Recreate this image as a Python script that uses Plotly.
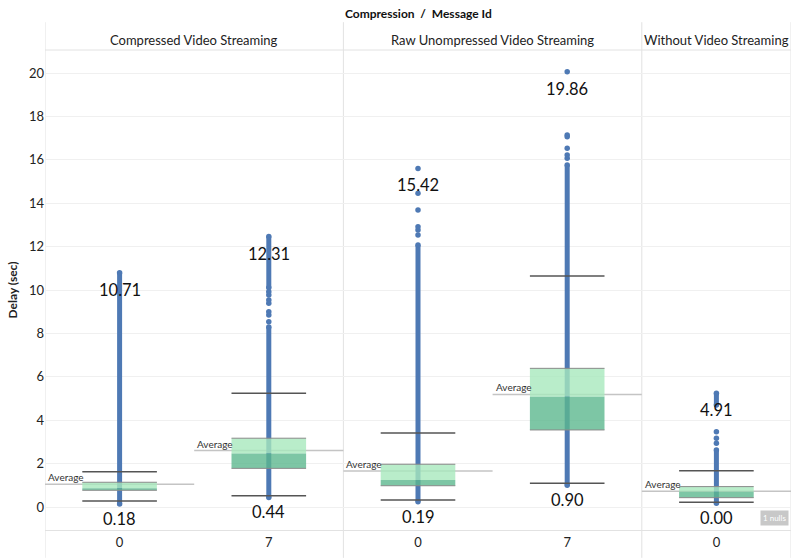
import plotly.graph_objects as go

# ---------------- data ----------------
panel_names = ["Compressed Video Streaming", "Raw Unompressed Video Streaming", "Without Video Streaming"]
message_ids = ["0", "7", "0", "7", "0"]
panel_of_column = [0, 0, 1, 1, 2]

lower_whisker = [0.28, 0.52, 0.32, 1.09, 0.22]
q1 = [0.77, 1.78, 0.98, 3.55, 0.43]
median = [0.86, 2.47, 1.24, 5.08, 0.70]
q3 = [1.14, 3.17, 1.97, 6.39, 0.94]
upper_whisker = [1.63, 5.24, 3.41, 10.65, 1.67]
average = [1.05, 2.60, 1.66, 5.19, 0.72]

min_label = [0.18, 0.44, 0.19, 0.90, 0.00]
max_label = [10.71, 12.31, 15.42, 19.86, 4.91]

# densely packed delay points shown as continuous runs (low, high)
dense_runs = [
    [(0.14, 10.80)],
    [(0.44, 8.30), (10.10, 12.46)],
    [(0.24, 12.07)],
    [(1.00, 15.76)],
    [(0.17, 2.63), (4.70, 5.24)],
]
# individually visible points
sparse_points = [
    [],
    [8.54, 8.85, 9.00, 9.39, 9.54, 9.77, 9.92],
    [12.53, 12.76, 12.92, 13.69, 14.46, 15.60],
    [16.07, 16.22, 16.53, 17.06, 17.14, 20.06],
    [2.94, 3.17, 3.47],
]

# ---------------- style ----------------
FONT = "Lato"
POINT_COLOR = "#4e79b4"
LIGHT_GREEN = "#a8e8bd"
DARK_GREEN = "#5cb88f"
WHISKER = "#555555"
AVG_LINE = "#c4c4c4"
BOX_HALF = 0.25

fig = go.Figure()

n = len(message_ids)

# points: dense runs
for i in range(n):
    xs, ys = [], []
    for lo, hi in dense_runs[i]:
        xs += [i, i, None]
        ys += [lo, hi, None]
    fig.add_trace(go.Scatter(
        x=xs, y=ys, mode="lines+markers",
        line=dict(color=POINT_COLOR, width=5),
        marker=dict(color=POINT_COLOR, size=5.5),
        showlegend=False, hoverinfo="skip"))
    if sparse_points[i]:
        fig.add_trace(go.Scatter(
            x=[i] * len(sparse_points[i]), y=sparse_points[i], mode="markers",
            marker=dict(color=POINT_COLOR, size=5.5),
            showlegend=False, hoverinfo="skip"))

shapes = []
annotations = []

for i in range(n):
    # average reference line across the cell
    shapes.append(dict(type="line", xref="x", yref="y", x0=i - 0.5, x1=i + 0.5,
                       y0=average[i], y1=average[i], layer="below",
                       line=dict(color=AVG_LINE, width=1.5)))
    annotations.append(dict(x=i - 0.5, y=average[i], xref="x", yref="y",
                            text="Average", showarrow=False, xanchor="left",
                            yanchor="bottom", xshift=1, yshift=-1,
                            font=dict(family=FONT, size=10, color="#333333")))
    # box halves
    shapes.append(dict(type="rect", xref="x", yref="y", x0=i - BOX_HALF, x1=i + BOX_HALF,
                       y0=median[i], y1=q3[i], fillcolor=LIGHT_GREEN, opacity=0.8,
                       line=dict(width=0), layer="above"))
    shapes.append(dict(type="rect", xref="x", yref="y", x0=i - BOX_HALF, x1=i + BOX_HALF,
                       y0=q1[i], y1=median[i], fillcolor=DARK_GREEN, opacity=0.8,
                       line=dict(width=0), layer="above"))
    for yv, col, w in [(q1[i], "#8a8a8a", 1), (q3[i], "#8a8a8a", 1),
                       (lower_whisker[i], WHISKER, 1.5), (upper_whisker[i], WHISKER, 1.5)]:
        shapes.append(dict(type="line", xref="x", yref="y", x0=i - BOX_HALF, x1=i + BOX_HALF,
                           y0=yv, y1=yv, layer="above", line=dict(color=col, width=w)))
    # max / min labels
    top = max([hi for lo, hi in dense_runs[i]] + sparse_points[i])
    bottom = min(lo for lo, hi in dense_runs[i])
    annotations.append(dict(x=i, y=top, xref="x", yref="y", text=f"{max_label[i]:.2f}",
                            showarrow=False, yshift=-17,
                            font=dict(family=FONT, size=16.5, color="#111111")))
    annotations.append(dict(x=i, y=bottom, xref="x", yref="y", text=f"{min_label[i]:.2f}",
                            showarrow=False, yshift=-15,
                            font=dict(family=FONT, size=16.5, color="#111111")))

# panel headers
for p, name in enumerate(panel_names):
    cols = [i for i in range(n) if panel_of_column[i] == p]
    cx = sum(cols) / len(cols)
    annotations.append(dict(x=cx, y=1.021, xref="x", yref="paper", text=name,
                            showarrow=False, yanchor="middle",
                            font=dict(family=FONT, size=13, color="#222222")))

annotations.append(dict(x=0.5, y=1.077, xref="paper", yref="paper",
                        text="<b>Compression  /  Message Id</b>", showarrow=False,
                        yanchor="middle", font=dict(family=FONT, size=12, color="#111111")))
annotations.append(dict(x=0.997, y=0.025, xref="paper", yref="paper", text="1 nulls",
                        showarrow=False, xanchor="right", yanchor="middle",
                        bgcolor="#c8c8c8", borderpad=2,
                        font=dict(family=FONT, size=8, color="#ffffff")))

# panel dividers and frame
for xv in [-0.5, 1.5, 3.5, 4.5]:
    shapes.append(dict(type="line", xref="x", yref="paper", x0=xv, x1=xv, y0=-0.058, y1=1.058,
                       layer="below", line=dict(color="#e2e2e2", width=1)))
shapes.append(dict(type="line", xref="x", yref="paper", x0=-0.5, x1=4.5, y0=1, y1=1,
                   layer="below", line=dict(color="#e2e2e2", width=1)))

fig.update_layout(
    width=795, height=558,
    margin=dict(l=45, r=4, t=50, b=28),
    paper_bgcolor="white", plot_bgcolor="white",
    font=dict(family=FONT, color="#222222"),
    shapes=shapes, annotations=annotations,
    showlegend=False,
    xaxis=dict(range=[-0.5, 4.5], tickvals=list(range(n)), ticktext=message_ids,
               showgrid=False, zeroline=False, showline=True, linecolor="#e2e2e2",
               ticks="", tickfont=dict(family=FONT, size=13, color="#222222")),
    yaxis=dict(range=[-1.06, 21.06], tickvals=list(range(0, 21, 2)),
               showgrid=True, gridcolor="#f0f0f0", zeroline=False, ticks="",
               tickfont=dict(family=FONT, size=13, color="#222222"),
               title=dict(text="<b>Delay (sec)</b>", standoff=8,
                          font=dict(family=FONT, size=12, color="#222222"))),
)

fig.write_html("out.html", config={"displayModeBar": False},
               post_script="document.body.style.margin='0';document.body.style.overflow='hidden';")
